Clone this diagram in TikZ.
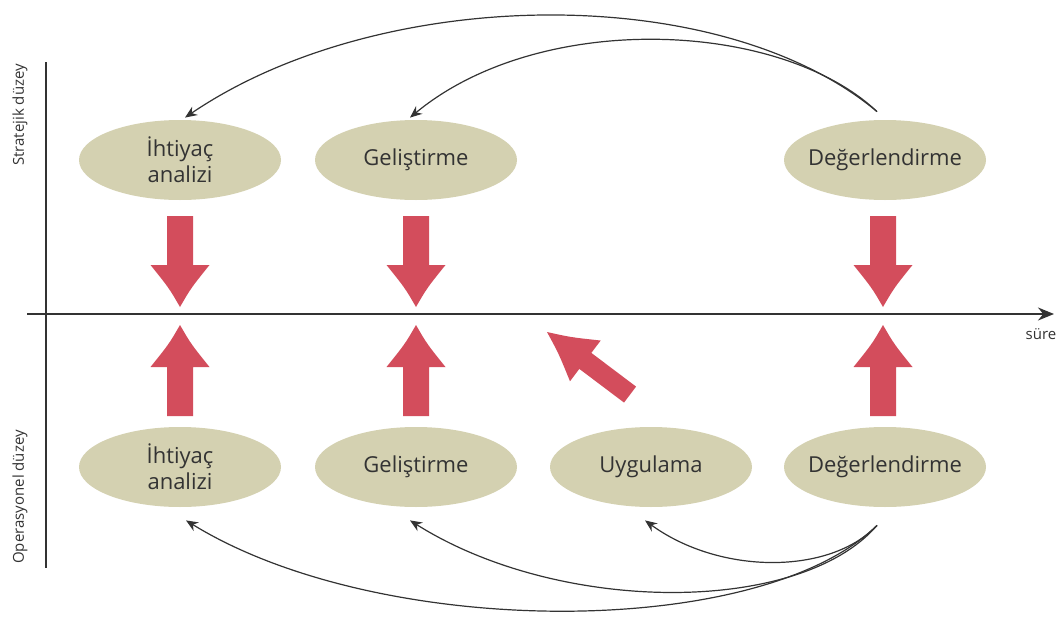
\documentclass[tikz,border=0pt]{standalone}
\usepackage{fontspec}
\setmainfont{Open Sans}
\usepackage{tikz}
\usetikzlibrary{arrows.meta, positioning, calc, shapes.geometric}
\definecolor{bej}{HTML}{D4D1B1}
\definecolor{kirmizi}{HTML}{D34D5C}
\definecolor{koyu}{HTML}{333333}

\begin{document}
\begin{tikzpicture}[x=0.5pt, y=-0.5pt, >=Stealth, font=\fontsize{11}{13}\selectfont, text=koyu,
  elips/.style={ellipse, fill=bej, minimum width=101pt, minimum height=40pt, inner xsep=-12pt, inner ysep=0pt, align=center},
  eksen/.style={koyu, line width=1pt},
  bag/.style={->, koyu, line width=0.6pt, >={Stealth[length=6pt, width=5pt]}},
  yan/.style={font=\fontsize{7.5}{9}\selectfont}]
  \useasboundingbox (0,0) rectangle (1062,632);

  % Eksenler
  \coordinate (x0) at (27,314);
  \coordinate (x1) at (1054,314);
  \coordinate (y0) at (46,62);
  \coordinate (y1) at (46,568);
  \draw[eksen, ->, >={Stealth[length=8pt, width=6.5pt]}] (x0) -- (x1);
  \draw[eksen] (y0) -- (y1);
  \node[yan] (sure) at (1041,334) {süre};
  \node[yan, rotate=90] (strat) at (20,115) {Stratejik düzey};
  \node[yan, rotate=90] (oper) at (20,497) {Operasyonel düzey};

  % Stratejik düzey
  \node[elips] (ihtS) at (180,160) {İhtiyaç\\analizi};
  \node[elips] (gelS) at (416,160) {Geliştirme};
  \node[elips] (degS) at (885,160) {Değerlendirme};

  % Operasyonel düzey
  \node[elips] (ihtO) at (180,467) {İhtiyaç\\analizi};
  \node[elips] (gelO) at (416,467) {Geliştirme};
  \node[elips] (uygO) at (651,467) {Uygulama};
  \node[elips] (degO) at (885,467) {Değerlendirme};

  % Kırmızı oklar
  \foreach \x/\y/\a in {180/307/0, 416/307/0, 883/307/0, 180/325/180, 416/325/180, 883/325/180}
    \fill[kirmizi, shift={(\x,\y)}, rotate=\a] (0,0) .. controls (11,-19) .. (29.5,-42) -- (13,-42) -- (13,-91)
      -- (-13,-91) -- (-13,-42) -- (-29.5,-42) .. controls (-11,-19) .. (0,0) -- cycle;
  \fill[kirmizi, shift={(547,332)}, rotate=-127] (0,0) .. controls (10,-22) .. (25.5,-48) -- (10,-48) -- (10,-104)
      -- (-10,-104) -- (-10,-48) -- (-25.5,-48) .. controls (-10,-22) .. (0,0) -- cycle;

  % Geri bildirim (üst)
  \coordinate (dS) at ([xshift=-4pt, yshift=4pt]degS.north);
  \draw[bag] (dS) .. controls (720,-20) and (380,-15) .. ([xshift=2.5pt, yshift=1pt]ihtS.north);
  \draw[bag] (dS) .. controls (780,20) and (540,10) .. ([xshift=-3pt, yshift=1pt]gelS.north);

  % Geri bildirim (alt)
  \coordinate (dO) at ([xshift=-4pt, yshift=-9pt]degO.south);
  \draw[bag] (dO) .. controls (760,640) and (380,640) .. ([xshift=3pt, yshift=-6.5pt]ihtO.south);
  \draw[bag] (dO) .. controls (800,615) and (560,615) .. ([xshift=-3pt, yshift=-6.5pt]gelO.south);
  \draw[bag] (dO) .. controls (830,575) and (720,575) .. ([xshift=-3pt, yshift=-6.5pt]uygO.south);
\end{tikzpicture}
\end{document}
